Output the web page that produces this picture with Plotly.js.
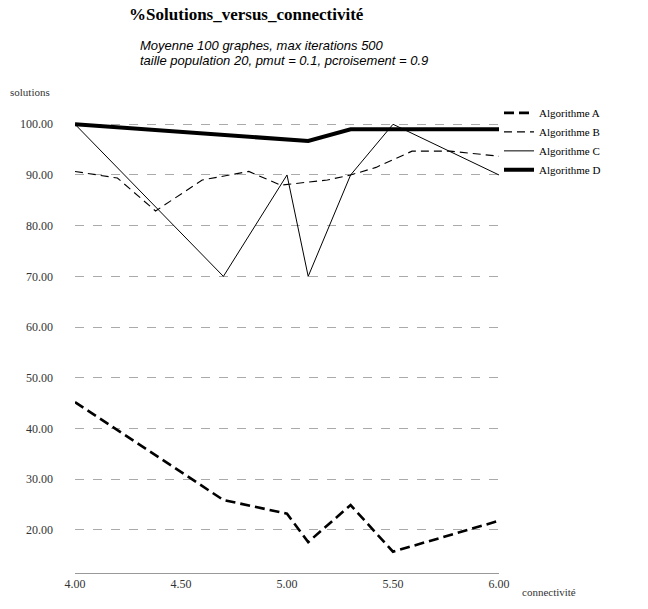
<!DOCTYPE html>
<html>
<head>
<meta charset="utf-8">
<script src="https://cdn.plot.ly/plotly-3.0.1.min.js"></script>
<style>html,body{margin:0;padding:0;background:#fff;}#chart{width:648px;height:609px;}</style>
</head>
<body>
<div id="chart"></div>
<script>
const connectivite = [4.0, 4.7, 5.0, 5.1, 5.3, 5.5, 6.0];
const algoA = [45.2, 25.9, 23.2, 17.6, 24.9, 15.7, 21.8];
const algoC = [100, 70, 90, 70, 90, 100, 90];
const algoD = [100, 97.8, 97.0, 96.7, 99, 99, 99];
const connectiviteB = [4.0, 4.2, 4.38, 4.6, 4.82, 4.97, 5.19, 5.3, 5.42, 5.59, 5.77, 6.0];
const algoB = [90.7, 89.4, 82.9, 89.0, 90.7, 88.0, 89.0, 90.0, 91.5, 94.7, 94.7, 93.7];
const seriesNames = ["Algorithme A", "Algorithme B", "Algorithme C", "Algorithme D"];
const yTickVals = [20, 30, 40, 50, 60, 70, 80, 90, 100];
const yTickText = ["20.00", "30.00", "40.00", "50.00", "60.00", "70.00", "80.00", "90.00", "100.00"];
const xTickVals = [4.0, 4.5, 5.0, 5.5, 6.0];
const xTickText = ["4.00", "4.50", "5.00", "5.50", "6.00"];

const serif = "Liberation Serif, Times New Roman, serif";
const sans = "Liberation Sans, Arial, sans-serif";
const traces = [
  {x: connectivite, y: algoA, name: seriesNames[0], mode: "lines",
   line: {color: "#000", width: 2.6, dash: "10px,5px"}},
  {x: connectiviteB, y: algoB, name: seriesNames[1], mode: "lines",
   line: {color: "#000", width: 1.1, dash: "8px,5px"}},
  {x: connectivite, y: algoC, name: seriesNames[2], mode: "lines",
   line: {color: "#000", width: 1}},
  {x: connectivite, y: algoD, name: seriesNames[3], mode: "lines",
   line: {color: "#000", width: 4}}
];
const layout = {
  width: 648, height: 609,
  margin: {l: 75, r: 149, t: 104, b: 36},
  paper_bgcolor: "#fff", plot_bgcolor: "#fff",
  font: {family: serif, color: "#000", size: 11},
  title: {text: "<b>%Solutions_versus_connectivité</b>", font: {family: serif, size: 17, color: "#000"},
          x: 0.38, xanchor: "center", xref: "container", y: 0.977, yref: "container", yanchor: "middle"},
  showlegend: true,
  legend: {x: 1.0, y: 1.012, xanchor: "left", yanchor: "top", font: {family: serif, size: 11, color: "#000"},
           tracegroupgap: 0, itemwidth: 30, bgcolor: "rgba(0,0,0,0)"},
  xaxis: {range: [4.0, 6.0], tickvals: xTickVals, ticktext: xTickText, showgrid: false, zeroline: false,
          showline: true, linecolor: "#999", linewidth: 1, ticks: "", tickfont: {family: serif, size: 12, color: "#333"},
          ticklabelstandoff: 0},
  yaxis: {range: [11.5, 104], tickvals: yTickVals, ticktext: yTickText, showgrid: true, gridcolor: "#aaa",
          griddash: "dash", gridwidth: 1, zeroline: false, showline: false, ticks: "",
          tickfont: {family: serif, size: 12, color: "#333"}, ticklabelstandoff: 21},
  annotations: [
    {text: "<i>Moyenne 100 graphes, max iterations 500</i>",
     xref: "paper", yref: "paper", x: 0.1486, y: (573 - 46) / 469, xanchor: "left", yanchor: "middle", align: "left",
     showarrow: false, font: {family: sans, size: 13, color: "#000"}},
    {text: "<i>taille population 20, pmut = 0.1, pcroisement = 0.9</i>",
     xref: "paper", yref: "paper", x: 0.1486, y: (573 - 60.5) / 469, xanchor: "left", yanchor: "middle", align: "left",
     showarrow: false, font: {family: sans, size: 13, color: "#000"}},
    {text: "solutions", xref: "paper", yref: "paper", x: -0.158, y: 1.0256, xanchor: "left", yanchor: "middle",
     showarrow: false, font: {family: serif, size: 11, color: "#333"}},
    {text: "connectivité", xref: "paper", yref: "paper", x: 1.0495, y: -0.0405, xanchor: "left", yanchor: "middle",
     showarrow: false, font: {family: serif, size: 11, color: "#333"}}
  ]
};
Plotly.newPlot("chart", traces, layout, {displayModeBar: false, staticPlot: true});
</script>
</body>
</html>
